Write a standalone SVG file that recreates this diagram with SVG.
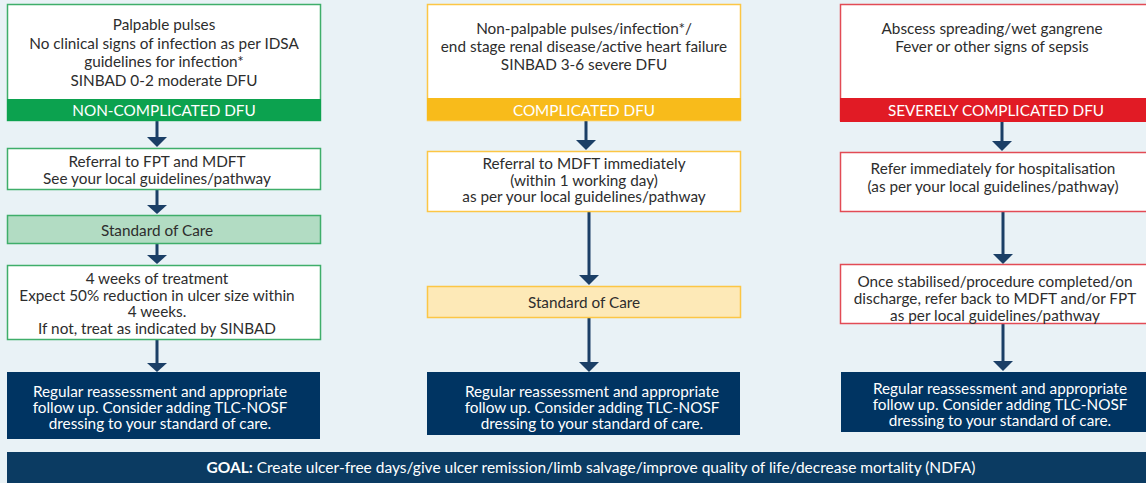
<svg xmlns="http://www.w3.org/2000/svg" width="1146" height="483" viewBox="0 0 1146 483">
<defs>
<style>
text{font-family:Lato,"Open Sans","Liberation Sans",sans-serif;font-size:15.3px;fill:#2d2d2d;text-anchor:middle}
.w{fill:#ffffff}
.gb{fill:#ffffff;stroke:#3fae6a;stroke-width:1.5}
.yb{fill:#ffffff;stroke:#fcc645;stroke-width:1.5}
.rb{fill:#ffffff;stroke:#e24b55;stroke-width:1.5}
.navy{fill:#003462}
.conn{stroke:#1b3f66;stroke-width:3;fill:none}
.ah{fill:#1b3f66}
</style>
</defs>
<rect x="0" y="0" width="1146" height="483" fill="#e9f2f6"/>

<g id="connectors">
<path class="conn" d="M157,121 V137"/><path class="ah" d="M147,137 H167 L157,147 Z"/>
<path class="conn" d="M157,190 V205"/><path class="ah" d="M147,205 H167 L157,214 Z"/>
<path class="conn" d="M157,244 V255"/><path class="ah" d="M147,255 H167 L157,264 Z"/>
<path class="conn" d="M157,340 V363"/><path class="ah" d="M147,363 H167 L157,372 Z"/>

<path class="conn" d="M586,121 V140"/><path class="ah" d="M576,140 H596 L586,150 Z"/>
<path class="conn" d="M589,212 V275"/><path class="ah" d="M579,275 H599 L589,285 Z"/>
<path class="conn" d="M589,318 V362"/><path class="ah" d="M579,362 H599 L589,372 Z"/>

<path class="conn" d="M1002,122 V141"/><path class="ah" d="M992,141 H1012 L1002,151 Z"/>
<path class="conn" d="M1003,212 V254"/><path class="ah" d="M993,254 H1013 L1003,264 Z"/>
<path class="conn" d="M1003,324 V361"/><path class="ah" d="M993,361 H1013 L1003,371 Z"/>
</g>

<g id="n-noncomp">
<rect class="gb" x="7.5" y="4.5" width="313" height="116"/>
<rect x="7" y="99" width="314" height="22" fill="#0ca24f"/>
<text x="164" y="30">Palpable pulses</text>
<text x="164" y="48.5">No clinical signs of infection as per IDSA</text>
<text x="164" y="67">guidelines for infection*</text>
<text x="164" y="85.5">SINBAD 0-2 moderate DFU</text>
<text x="164" y="115.5" class="w">NON-COMPLICATED DFU</text>
</g>
<g id="n-referral-fpt">
<rect class="gb" x="7.5" y="148.5" width="313" height="41"/>
<text x="157" y="167">Referral to FPT and MDFT</text>
<text x="157" y="184">See your local guidelines/pathway</text>
</g>
<g id="n-soc-green">
<rect x="7.5" y="215.5" width="313" height="28" fill="#b2dcc3" stroke="#3fae6a" stroke-width="1.5"/>
<text x="157" y="235.5">Standard of Care</text>
</g>
<g id="n-4weeks">
<rect class="gb" x="7.5" y="265.5" width="313" height="74"/>
<text x="157" y="283.5">4 weeks of treatment</text>
<text x="157" y="300.5">Expect 50% reduction in ulcer size within</text>
<text x="157" y="317">4 weeks.</text>
<text x="157" y="333.5">If not, treat as indicated by SINBAD</text>
</g>
<g id="n-reg-left">
<rect class="navy" x="7" y="372" width="313" height="67"/>
<text x="160" y="396.5" class="w">Regular reassessment and appropriate</text>
<text x="160" y="412.5" class="w">follow up. Consider adding TLC-NOSF</text>
<text x="160" y="428.5" class="w">dressing to your standard of care.</text>
</g>

<g id="n-comp">
<rect class="yb" x="427.5" y="4.5" width="313" height="116"/>
<rect x="427" y="98" width="314" height="22" fill="#f8bb1b"/>
<text x="584" y="34">Non-palpable pulses/infection*/</text>
<text x="584" y="52">end stage renal disease/active heart failure</text>
<text x="584" y="70">SINBAD 3-6 severe DFU</text>
<text x="584" y="115.5" class="w">COMPLICATED DFU</text>
</g>
<g id="n-referral-mdft">
<rect class="yb" x="427.5" y="151.5" width="313" height="60"/>
<text x="584" y="169">Referral to MDFT immediately</text>
<text x="584" y="186">(within 1 working day)</text>
<text x="584" y="202">as per your local guidelines/pathway</text>
</g>
<g id="n-soc-yellow">
<rect x="427.5" y="286.5" width="313" height="31" fill="#fde9b7" stroke="#fcc645" stroke-width="1.5"/>
<text x="584" y="307.5">Standard of Care</text>
</g>
<g id="n-reg-mid">
<rect class="navy" x="427" y="372" width="313" height="63"/>
<text x="592" y="396.5" class="w">Regular reassessment and appropriate</text>
<text x="592" y="412.5" class="w">follow up. Consider adding TLC-NOSF</text>
<text x="592" y="428.5" class="w">dressing to your standard of care.</text>
</g>

<g id="n-severe">
<rect class="rb" x="840.5" y="4.5" width="310" height="116"/>
<rect x="840" y="98" width="306" height="24" fill="#e11b25"/>
<text x="992" y="34">Abscess spreading/wet gangrene</text>
<text x="992" y="52">Fever or other signs of sepsis</text>
<text x="996" y="116" class="w">SEVERELY COMPLICATED DFU</text>
</g>
<g id="n-hospital">
<rect class="rb" x="840.5" y="152.5" width="310" height="59"/>
<text x="993" y="174">Refer immediately for hospitalisation</text>
<text x="993" y="191.5">(as per your local guidelines/pathway)</text>
</g>
<g id="n-stabilised">
<rect class="rb" x="840.5" y="264.5" width="310" height="59"/>
<text x="995" y="286.5">Once stabilised/procedure completed/on</text>
<text x="995" y="303.5">discharge, refer back to MDFT and/or FPT</text>
<text x="995" y="320.5">as per local guidelines/pathway</text>
</g>
<g id="n-reg-right">
<rect class="navy" x="841" y="372" width="305" height="60"/>
<text x="1000" y="393.5" class="w">Regular reassessment and appropriate</text>
<text x="1000" y="409.5" class="w">follow up. Consider adding TLC-NOSF</text>
<text x="1000" y="425.5" class="w">dressing to your standard of care.</text>
</g>

<g id="n-goal">
<rect x="7" y="452" width="1139" height="31" fill="#0b3b62"/>
<text x="591" y="473" class="w" style="font-size:15.5px"><tspan font-weight="bold" fill="#ffffff">GOAL:</tspan> Create ulcer-free days/give ulcer remission/limb salvage/improve quality of life/decrease mortality (NDFA)</text>
</g>
</svg>
